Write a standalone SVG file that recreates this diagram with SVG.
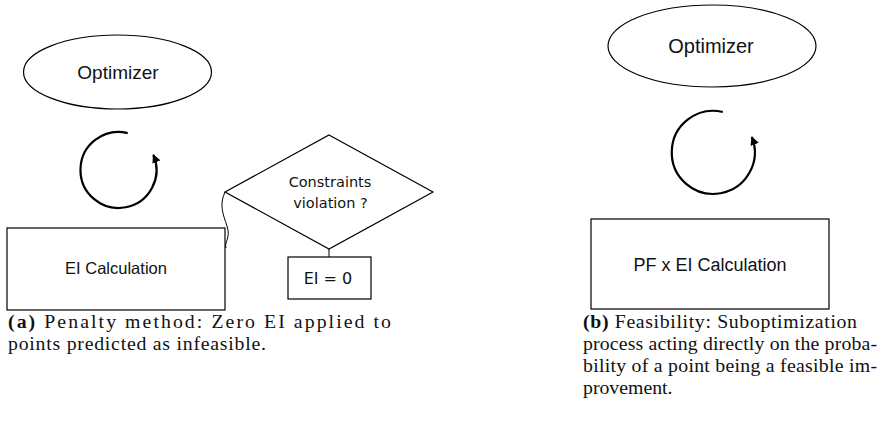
<svg xmlns="http://www.w3.org/2000/svg" width="894" height="421" viewBox="0 0 894 421">
<defs>
<marker id="ah" viewBox="0 0 10 10" refX="9" refY="5" markerWidth="4" markerHeight="4" orient="auto" markerUnits="strokeWidth">
<path d="M0,0 L10,5 L0,10 z" fill="#000"/>
</marker>
<style>
.shape{fill:#fff;stroke:#000;stroke-width:1.2}
.sans{font-family:"Liberation Sans",Arial,sans-serif;fill:#111}
.tah{font-family:"DejaVu Sans",Verdana,sans-serif;fill:#111}
.cap{font-family:"Liberation Serif","Times New Roman",serif;font-size:19.8px;fill:#111}
.loop{fill:none;stroke:#000;stroke-width:2.2}
.conn{fill:none;stroke:#000;stroke-width:1}
</style>
</defs>
<rect width="894" height="421" fill="#fff"/>

<g id="connectors">
<path class="conn" d="M225,192 C219,205 223,214 227,226 C231,238 224,242 226,248"/>
<line class="conn" x1="329" y1="249" x2="329" y2="257"/>
</g>

<g id="optimizer-a">
<ellipse class="shape" cx="117.5" cy="72" rx="94" ry="37"/>
<text class="sans" x="118" y="78.5" font-size="19" text-anchor="middle">Optimizer</text>
</g>
<g id="loop-a">
<path class="loop" d="M127.7,133.1 A38,38 0 1 0 153.35,154.85" marker-end="url(#ah)"/>
</g>
<g id="ei-calc">
<rect class="shape" x="7" y="228" width="218" height="82"/>
<text class="sans" x="116" y="274" font-size="16.5" text-anchor="middle">EI Calculation</text>
</g>
<g id="constraints">
<polygon class="shape" points="329,135 433,192 329,249 225,192"/>
<text class="tah" x="330" y="187" font-size="14.5" text-anchor="middle">Constraints</text>
<text class="tah" x="330.5" y="208" font-size="14.5" text-anchor="middle">violation ?</text>
</g>
<g id="ei-zero">
<rect class="shape" x="288" y="257" width="83" height="42"/>
<text class="tah" x="328" y="284" font-size="16" text-anchor="middle">EI = 0</text>
</g>

<g id="optimizer-b">
<ellipse class="shape" cx="712" cy="46" rx="104" ry="41"/>
<text class="sans" x="711" y="53" font-size="20" text-anchor="middle">Optimizer</text>
</g>
<g id="loop-b">
<path class="loop" d="M722.8,112.0 A41.5,41.5 0 1 0 751.8,137.0" marker-end="url(#ah)"/>
</g>
<g id="pf-ei-calc">
<rect class="shape" x="591" y="219" width="238" height="90"/>
<text class="sans" x="710" y="270.5" font-size="18" text-anchor="middle">PF x EI Calculation</text>
</g>

<g id="caption-a">
<text class="cap" x="8" y="328" textLength="383" lengthAdjust="spacing"><tspan font-weight="bold">(a)</tspan>  Penalty method: Zero EI applied to</text>
<text class="cap" x="8" y="350" textLength="258" lengthAdjust="spacing">points predicted as infeasible.</text>
</g>
<g id="caption-b">
<text class="cap" x="583" y="328" textLength="274" lengthAdjust="spacing"><tspan font-weight="bold">(b)</tspan>  Feasibility: Suboptimization</text>
<text class="cap" x="583" y="350" textLength="294" lengthAdjust="spacing">process acting directly on the proba-</text>
<text class="cap" x="583" y="372" textLength="294" lengthAdjust="spacing">bility of a point being a feasible im-</text>
<text class="cap" x="583" y="394">provement.</text>
</g>
</svg>
